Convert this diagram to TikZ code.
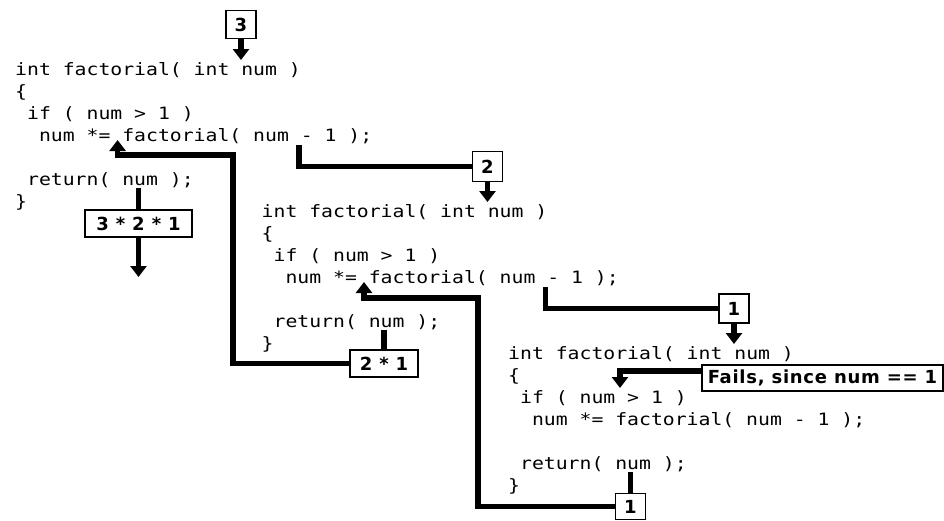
\documentclass[tikz,border=0pt]{standalone}
\usepackage{fontspec}
\newfontfamily\codefont[FakeStretch=1.163]{DejaVu Sans Mono}
\newfontfamily\labfont[LetterSpace=4]{DejaVu Sans}
\usetikzlibrary{arrows.meta}
\tikzset{
  code/.style={anchor=base west, inner sep=0pt, font=\codefont\fontsize{17}{17}\selectfont},
  wire/.style={line width=5.5pt},
  arr/.style={wire, -{Triangle[width=16pt,length=11pt]}},
  valbox/.style={draw, line width=1.6pt, inner sep=0pt, minimum height=27pt,
    font=\labfont\bfseries\fontsize{18}{18}\selectfont},
}
\begin{document}
\begin{tikzpicture}[x=1pt,y=-1pt]
\useasboundingbox (0,0) rectangle (944,520);
% ---- block 1
\node[code] (a0) at (15,75)   {int factorial( int num )};
\node[code] (a1) at (15,97)   {\{};
\node[code] (a2) at (26.9,119) {if ( num > 1 )};
\node[code] (a3) at (38.8,141) {num *= factorial( num - 1 );};
\node[code] (a5) at (26.9,185) {return( num );};
\node[code] (a6) at (15,207)  {\}};
% ---- block 2
\node[code] (b0) at (261.5,217) {int factorial( int num )};
\node[code] (b1) at (261.5,239) {\{};
\node[code] (b2) at (273.4,261) {if ( num > 1 )};
\node[code] (b3) at (285.3,283) {num *= factorial( num - 1 );};
\node[code] (b5) at (273.4,327) {return( num );};
\node[code] (b6) at (261.5,349) {\}};
% ---- block 3
\node[code] (c0) at (508,359) {int factorial( int num )};
\node[code] (c1) at (508,381) {\{};
\node[code] (c2) at (519.9,403) {if ( num > 1 )};
\node[code] (c3) at (531.8,425) {num *= factorial( num - 1 );};
\node[code] (c5) at (519.9,469) {return( num );};
\node[code] (c6) at (508,491) {\}};
% ---- value boxes
\node[valbox, minimum width=30pt, minimum height=28pt] (v3) at (241,24.5) {3};
\node[valbox, minimum width=30pt, minimum height=30pt] (v2) at (487.5,166.5) {2};
\node[valbox, minimum width=30pt, minimum height=29pt] (v1) at (734,308.5) {1};
\node[valbox, minimum width=107pt] (r3b) at (138.5,223.5) {3 * 2 * 1};
\node[valbox, minimum width=68pt] (r2b) at (384,363.5) {2 * 1};
\node[valbox, minimum width=30pt, minimum height=26pt] (r1b) at (630.5,506.5) {1};
\node[valbox, minimum width=241pt, minimum height=26pt] (fails) at (822.5,378) {Fails, since num == 1};
% ---- coordinates
\coordinate (s1) at (299,145);
\coordinate (s2) at (545.5,287);
\coordinate (t3) at (241,60);
\coordinate (t2) at (487.5,202);
\coordinate (t1) at (734,344);
\coordinate (tf) at (620,388);
\coordinate (q1) at (138.5,188);
\coordinate (q2) at (384,330);
\coordinate (q3) at (630.5,472);
\coordinate (out) at (138.5,277);
\coordinate (k2) at (233,155);
\coordinate (h1) at (117.6,140);
\coordinate (k3) at (478,298);
\coordinate (h2) at (364,282);
% ---- calls
\draw[arr] (v3.south) -- (t3);
\draw[wire] (s1) |- (v2.west);
\draw[arr] (v2.south) -- (t2);
\draw[wire] (s2) |- (v1.west);
\draw[arr] (v1.south) -- (t1);
\draw[arr] ([yshift=7pt]fails.west) -| (tf);
% ---- returns
\draw[wire] (q3) -- (r1b.north);
\draw[arr] (r1b.west) -| (k3) -| (h2);
\draw[wire] (q2) -- (r2b.north);
\draw[arr] (r2b.west) -| (k2) -| (h1);
\draw[wire] (q1) -- (r3b.north);
\draw[arr] (r3b.south) -- (out);
\end{tikzpicture}
\end{document}
